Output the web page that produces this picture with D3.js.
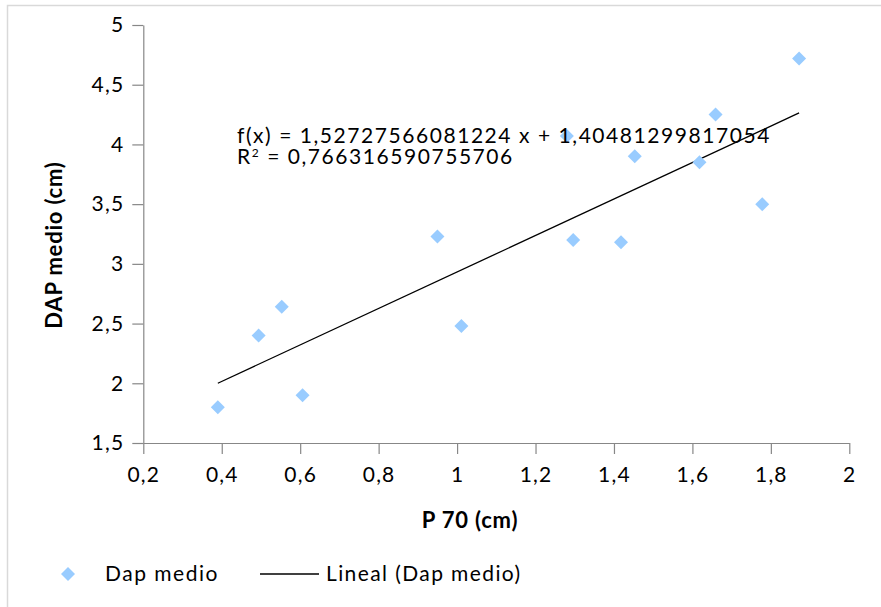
<!DOCTYPE html>
<html>
<head>
<meta charset="utf-8">
<script src="https://cdn.jsdelivr.net/npm/d3@7"></script>
<style>
	body { margin: 0; background: #fff; }
	text { font-family: Lato, 'Noto Sans', sans-serif; }
</style>
</head>
<body>
<svg id="chart"></svg>
<script>
// P 70 (cm) vs DAP medio (cm)
const p70 = [0.39, 0.494, 0.553, 0.606, 0.95, 1.011, 1.28, 1.296, 1.418, 1.453, 1.618, 1.659, 1.778, 1.872]
const dapMedio = [1.80, 2.40, 2.64, 1.90, 3.23, 2.48, 4.07, 3.20, 3.18, 3.90, 3.85, 4.25, 3.50, 4.72]

const xTicks = [0.2, 0.4, 0.6, 0.8, 1, 1.2, 1.4, 1.6, 1.8, 2]
const yTicks = [1.5, 2, 2.5, 3, 3.5, 4, 4.5, 5]

const slope = 1.52727566081224
const intercept = 1.40481299817054
const r2 = 0.766316590755706

const eqText = 'f(x) = 1,52727566081224 x + 1,40481299817054'
const seriesName = 'Dap medio'
const trendName = 'Lineal (Dap medio)'

let outer_width = 881
let outer_height = 607

let margin = {
	top: 25,
	right: 31.7,
	bottom: 164,
	left: 143.3
}

let width = outer_width - margin.left - margin.right
let height = outer_height - margin.top - margin.bottom

const comma = (n)=>{
	return n.toString().replace('.', ',')
}

const data = p70.map((p, i)=>({x: p, y: dapMedio[i]}))

const svg = d3.select('#chart')
	.attr('width', outer_width)
	.attr('height', outer_height)

// chart area border (only top and left show)
svg.append('rect')
	.attr('x', 7.5)
	.attr('y', 5.5)
	.attr('width', 1000)
	.attr('height', 1000)
	.attr('fill', '#fff')
	.attr('stroke', '#d9d9d9')
	.attr('stroke-width', 1.5)

const xScale = d3.scaleLinear()
	.domain([0.2, 2])
	.range([0, width])

const yScale = d3.scaleLinear()
	.domain([1.5, 5])
	.range([height, 0])

const chart = svg.append('g')
	.attr('transform', `translate(${margin.left},${margin.top})`)

const axisX = chart.append('g')
	.attr('transform', `translate(0,${height})`)
	.call(
		d3.axisBottom(xScale)
		.tickValues(xTicks)
		.tickSize(11)
		.tickPadding(13)
		.tickSizeOuter(0)
		.tickFormat(d => comma(d))
	)

const axisY = chart.append('g')
	.call(
		d3.axisLeft(yScale)
		.tickValues(yTicks)
		.tickSize(11)
		.tickPadding(8)
		.tickSizeOuter(0)
		.tickFormat(d => comma(d))
	)

chart.selectAll('.domain, .tick line')
	.attr('stroke', '#878787')
	.attr('stroke-width', 1.2)

chart.selectAll('.tick text')
	.attr('fill', '#000')
	.attr('font-family', 'Lato')
	.attr('font-size', '21px')
	.attr('letter-spacing', '1.2px')

// trend line over the data range
const xMin = d3.min(p70)
const xMax = d3.max(p70)

chart.append('line')
	.attr('x1', xScale(xMin))
	.attr('y1', yScale(slope * xMin + intercept))
	.attr('x2', xScale(xMax))
	.attr('y2', yScale(slope * xMax + intercept))
	.attr('stroke', '#000')
	.attr('stroke-width', 1.3)

const diamond = d3.symbol().type(d3.symbolSquare).size(98)

chart.selectAll('.point')
	.data(data)
	.enter()
	.append('path')
	.classed('point', true)
	.attr('d', diamond)
	.attr('fill', '#99ccff')
	.attr('transform', d => `translate(${xScale(d.x)},${yScale(d.y)}) rotate(45)`)

// equation label
const eq = svg.append('text')
	.attr('x', 237)
	.attr('y', 143)
	.attr('font-size', '21px')
	.attr('letter-spacing', '1.55px')
	.attr('fill', '#000')

eq.append('tspan')
	.attr('x', 237)
	.text(eqText)

const r2line = eq.append('tspan')
	.attr('x', 237)
	.attr('dy', 21)

r2line.append('tspan').text('R')
r2line.append('tspan')
	.attr('font-size', '12px')
	.attr('dy', -7)
	.text('2')
r2line.append('tspan')
	.attr('dy', 7)
	.text(` = ${comma(r2)}`)

// axis titles
svg.append('text')
	.text('P 70 (cm)')
	.attr('x', 470)
	.attr('y', 528)
	.attr('text-anchor', 'middle')
	.attr('font-weight', 'bold')
	.attr('font-size', '22px')
	.attr('letter-spacing', '0.8px')

svg.append('text')
	.text('DAP medio (cm)')
	.attr('transform', 'translate(62,245) rotate(-90)')
	.attr('text-anchor', 'middle')
	.attr('font-weight', 'bold')
	.attr('font-size', '22px')
	.attr('letter-spacing', '0.8px')

// legend
const legend = svg.append('g')

legend.append('path')
	.attr('d', diamond)
	.attr('fill', '#99ccff')
	.attr('transform', 'translate(68,574) rotate(45)')

legend.append('text')
	.text(seriesName)
	.attr('x', 105)
	.attr('y', 581)
	.attr('font-size', '21px')
	.attr('letter-spacing', '1.5px')

legend.append('line')
	.attr('x1', 260)
	.attr('x2', 319)
	.attr('y1', 574)
	.attr('y2', 574)
	.attr('stroke', '#000')
	.attr('stroke-width', 1.3)

legend.append('text')
	.text(trendName)
	.attr('x', 326)
	.attr('y', 581)
	.attr('font-size', '21px')
	.attr('letter-spacing', '1.4px')
</script>
</body>
</html>
